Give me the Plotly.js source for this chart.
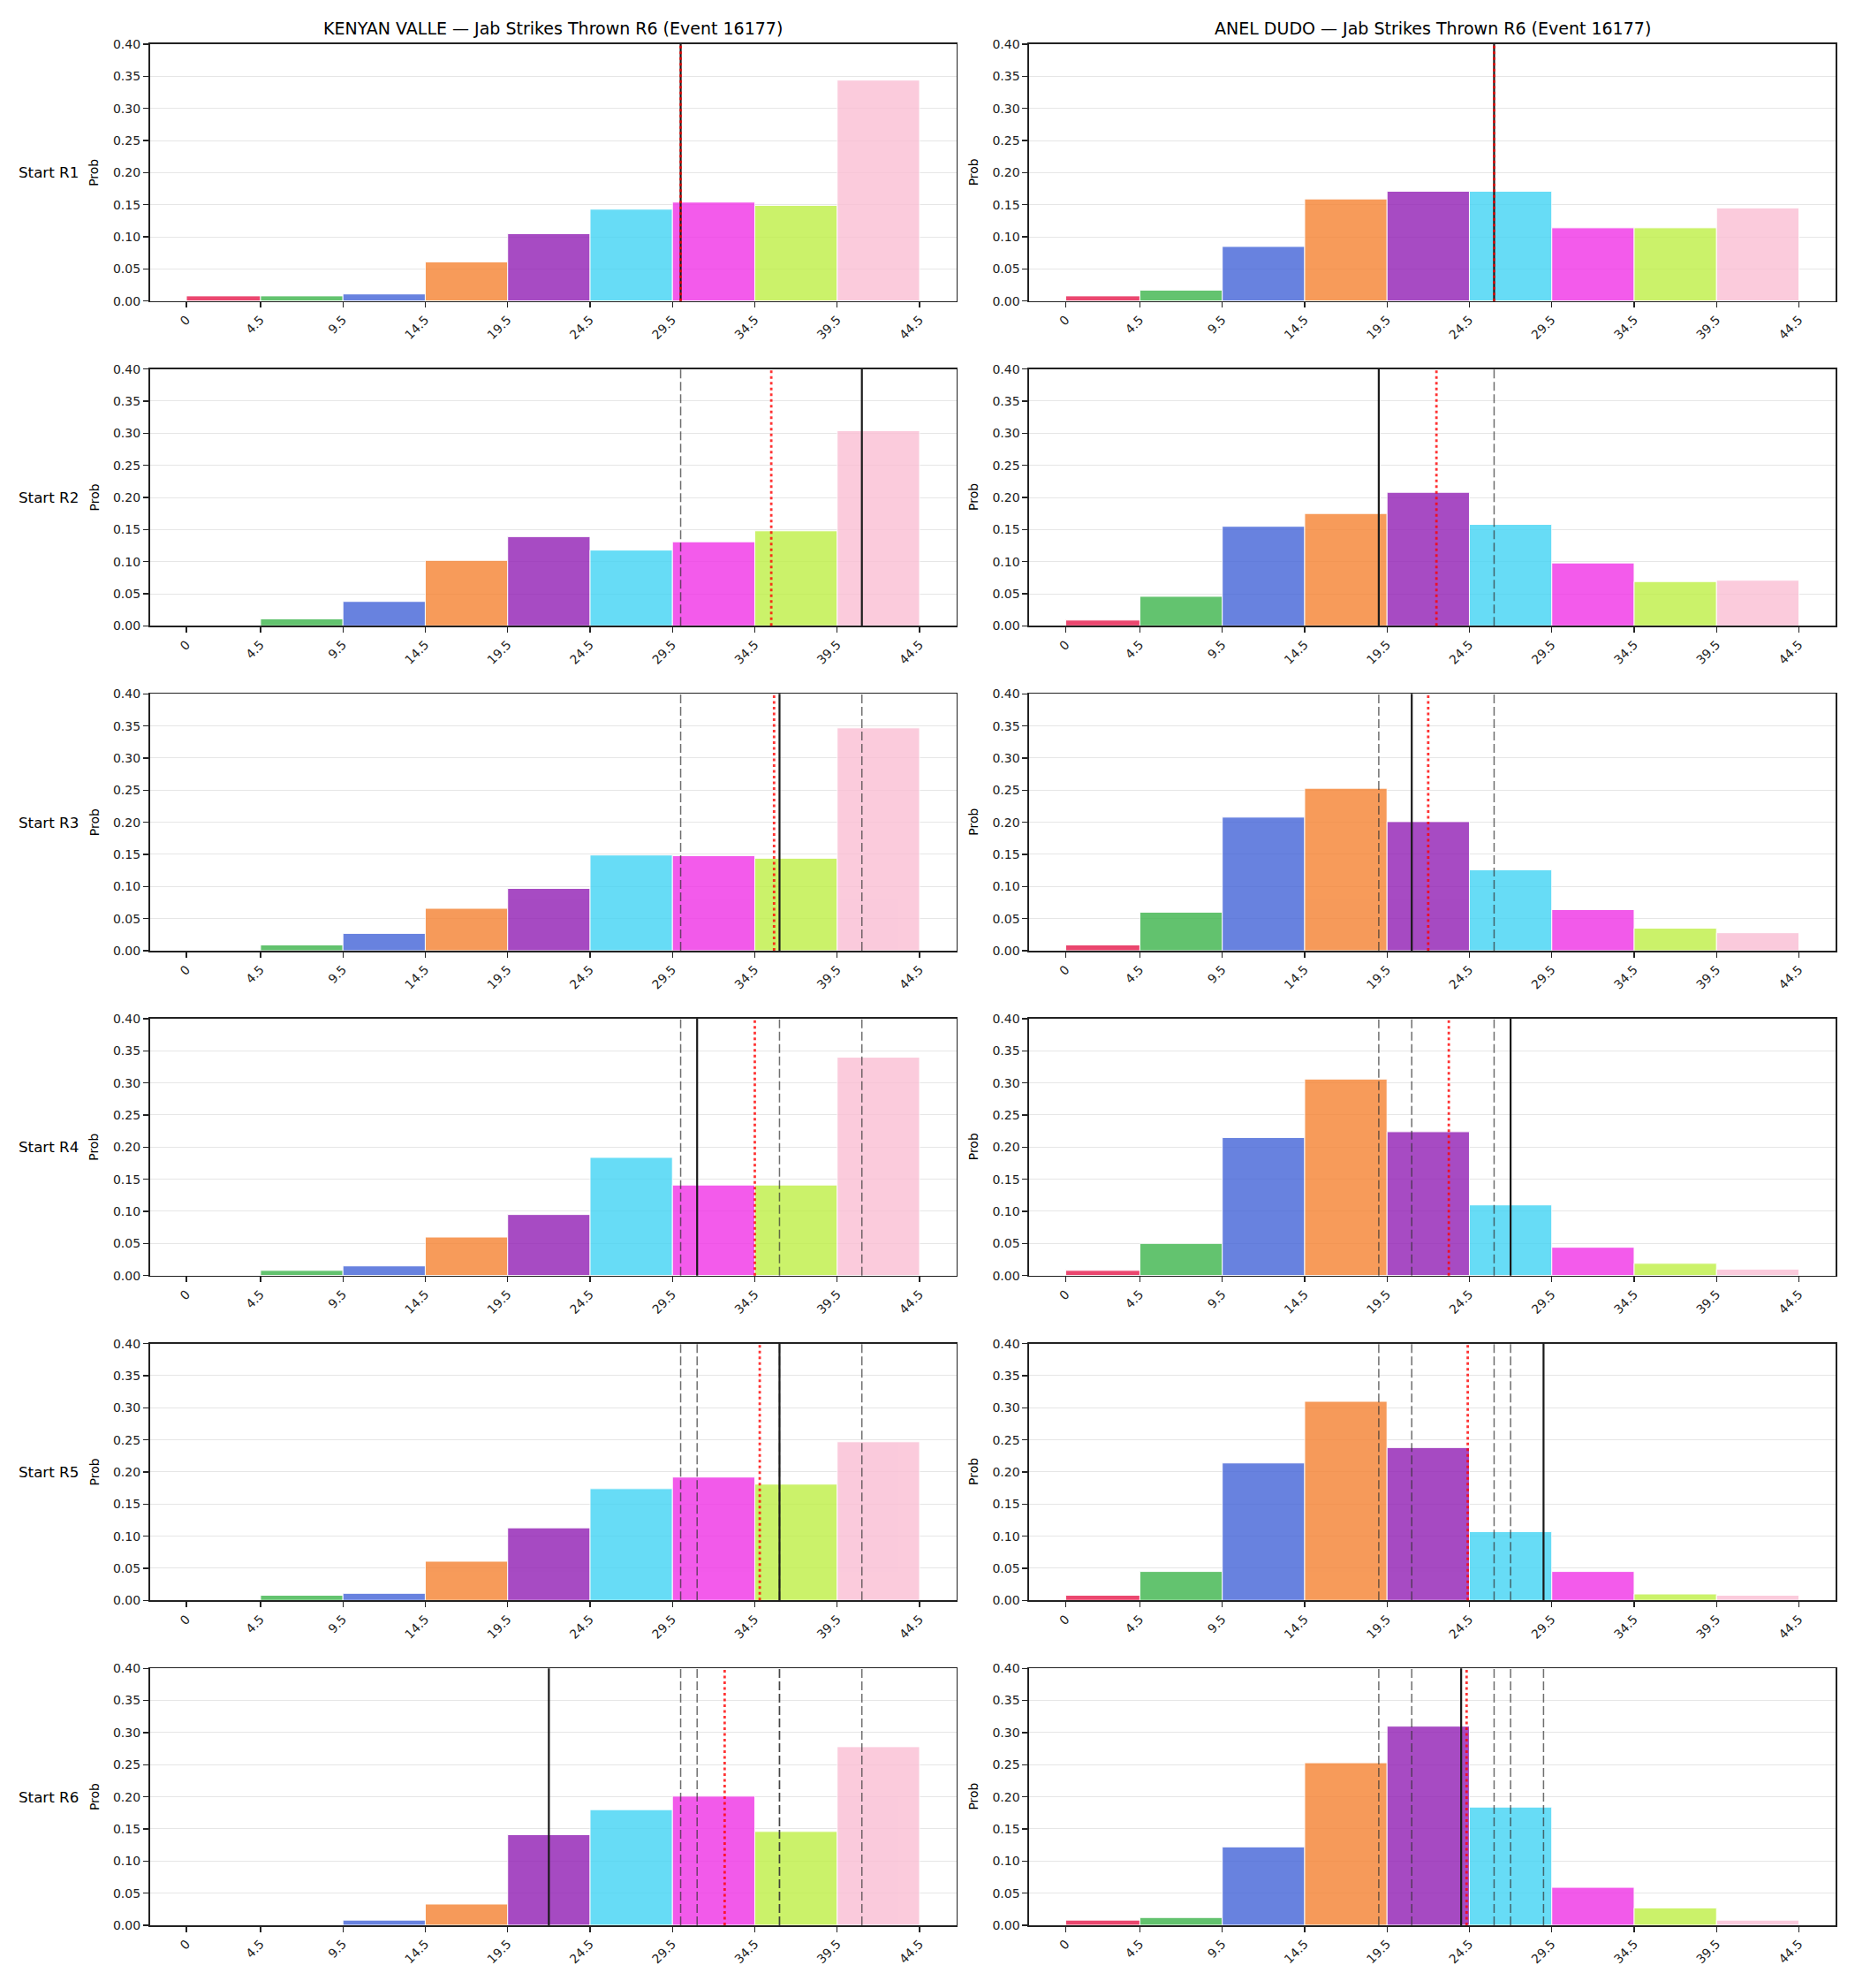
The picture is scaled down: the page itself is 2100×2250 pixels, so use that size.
<!DOCTYPE html>
<html>
<head>
<meta charset="utf-8">
<script src="https://cdn.plot.ly/plotly-3.0.1.min.js"></script>
<style>html,body{margin:0;padding:0;background:#fff;}#chart{width:2100px;height:2250px;}</style>
</head>
<body>
<div id="chart"></div>
<script>
// ---------------- DATA ----------------
const binEdges = [0, 4.5, 9.5, 14.5, 19.5, 24.5, 29.5, 34.5, 39.5, 44.5];
const tickLabels = ["0", "4.5", "9.5", "14.5", "19.5", "24.5", "29.5", "34.5", "39.5", "44.5"];
const rowLabels = ["Start R1", "Start R2", "Start R3", "Start R4", "Start R5", "Start R6"];
const columnTitles = [
  "KENYAN VALLE \u2014 Jab Strikes Thrown R6 (Event 16177)",
  "ANEL DUDO \u2014 Jab Strikes Thrown R6 (Event 16177)"
];
const binColors = ["#e6194b", "#3cb44b", "#4363d8", "#f58231", "#911eb4", "#42d4f4", "#f032e6", "#bfef45", "#fabed4"];

// Kenyan Valle: probability per bin at the start of each round
const valleR1 = [0.008, 0.008, 0.011, 0.061, 0.105, 0.143, 0.154, 0.149, 0.344];
const valleR2 = [0.000, 0.011, 0.038, 0.102, 0.139, 0.118, 0.131, 0.148, 0.304];
const valleR3 = [0.000, 0.009, 0.027, 0.066, 0.097, 0.149, 0.148, 0.144, 0.347];
const valleR4 = [0.000, 0.008, 0.015, 0.060, 0.095, 0.184, 0.141, 0.141, 0.340];
const valleR5 = [0.000, 0.008, 0.011, 0.061, 0.113, 0.174, 0.192, 0.181, 0.247];
const valleR6 = [0.000, 0.000, 0.008, 0.033, 0.141, 0.180, 0.201, 0.146, 0.278];

// Anel Dudo: probability per bin at the start of each round
const dudoR1 = [0.008, 0.017, 0.085, 0.159, 0.171, 0.171, 0.114, 0.114, 0.145];
const dudoR2 = [0.009, 0.046, 0.155, 0.175, 0.208, 0.158, 0.098, 0.069, 0.071];
const dudoR3 = [0.009, 0.060, 0.208, 0.253, 0.201, 0.126, 0.064, 0.035, 0.028];
const dudoR4 = [0.008, 0.050, 0.215, 0.306, 0.224, 0.110, 0.044, 0.019, 0.010];
const dudoR5 = [0.008, 0.045, 0.214, 0.310, 0.238, 0.107, 0.045, 0.010, 0.008];
const dudoR6 = [0.008, 0.012, 0.122, 0.253, 0.310, 0.184, 0.059, 0.027, 0.008];

// Marker lines: black solid = round value, red dotted = running mean, grey dashed = earlier rounds
const valleRoundValue = [30, 41, 36, 31, 36, 22];
const valleRunningMean = [30.0, 35.5, 35.67, 34.5, 34.8, 32.67];
const dudoRoundValue = [26, 19, 21, 27, 29, 24];
const dudoRunningMean = [26.0, 22.5, 22.0, 23.25, 24.4, 24.33];

const valleRows = [valleR1, valleR2, valleR3, valleR4, valleR5, valleR6];
const dudoRows = [dudoR1, dudoR2, dudoR3, dudoR4, dudoR5, dudoR6];

// ---------------- LAYOUT ----------------
const W = 2100, H = 2250;
const FONT = "DejaVu Sans, Liberation Sans, sans-serif";
const colX = [[169.5, 1082.5], [1165, 2078]];
const rowTop0 = 50, rowStep = 367.65, rowH = 290.7;

const centers = binEdges.slice(0, -1).map((e, i) => (e + binEdges[i + 1]) / 2);
const widths = binEdges.slice(0, -1).map((e, i) => binEdges[i + 1] - e);

const data = [];
const layout = {
  width: W, height: H,
  margin: {l: 0, r: 0, t: 0, b: 0},
  paper_bgcolor: "#fff", plot_bgcolor: "#fff",
  showlegend: false,
  font: {family: FONT, size: 14, color: "#000"},
  shapes: [], annotations: []
};

const columns = [
  {rows: valleRows, value: valleRoundValue, mean: valleRunningMean},
  {rows: dudoRows, value: dudoRoundValue, mean: dudoRunningMean}
];

for (let r = 0; r < 6; r++) {
  const top = rowTop0 + r * rowStep;
  const bottom = top + rowH;
  const yDom = [1 - bottom / H, 1 - top / H];
  for (let c = 0; c < 2; c++) {
    const idx = r * 2 + c + 1;
    const xName = idx === 1 ? "x" : "x" + idx;
    const yName = idx === 1 ? "y" : "y" + idx;
    const xKey = idx === 1 ? "xaxis" : "xaxis" + idx;
    const yKey = idx === 1 ? "yaxis" : "yaxis" + idx;
    const col = columns[c];

    data.push({
      type: "bar", x: centers, y: col.rows[r], width: widths,
      xaxis: xName, yaxis: yName,
      marker: {color: binColors, opacity: 0.8, line: {color: "#ffffff", width: 1}},
      hoverinfo: "skip"
    });

    layout[xKey] = {
      domain: [colX[c][0] / W, colX[c][1] / W], anchor: yName,
      range: [-2.225, 46.725], tickmode: "array", tickvals: binEdges, ticktext: tickLabels,
      tickangle: -45, ticks: "outside", ticklen: 6, tickwidth: 1.3, tickcolor: "#222",
      showline: true, mirror: true, linecolor: "#222", linewidth: 1.6,
      showgrid: false, zeroline: false, automargin: false,
      tickfont: {family: FONT, size: 14, color: "#222"}
    };
    layout[yKey] = {
      domain: yDom, anchor: xName,
      range: [0, 0.4], tickmode: "linear", tick0: 0, dtick: 0.05, tickformat: ".2f",
      ticks: "outside", ticklen: 6, tickwidth: 1.3, tickcolor: "#222",
      showline: true, mirror: true, linecolor: "#222", linewidth: 1.6,
      showgrid: true, gridcolor: "#e6e6e6", gridwidth: 1,
      zeroline: false, automargin: false,
      tickfont: {family: FONT, size: 14, color: "#222"}
    };

    // earlier rounds (grey dashed)
    for (let p = 0; p < r; p++) {
      layout.shapes.push({
        type: "line", xref: xName, yref: yName + " domain",
        x0: col.value[p], x1: col.value[p], y0: 0, y1: 1,
        line: {color: "rgba(50,50,50,0.7)", width: 1.5, dash: "10px,4px"}
      });
    }
    // current round value (black solid)
    layout.shapes.push({
      type: "line", xref: xName, yref: yName + " domain",
      x0: col.value[r], x1: col.value[r], y0: 0, y1: 1,
      line: {color: "#1a1a1a", width: 2.2}
    });
    // running mean (red dotted)
    layout.shapes.push({
      type: "line", xref: xName, yref: yName + " domain",
      x0: col.mean[r], x1: col.mean[r], y0: 0, y1: 1,
      line: {color: "rgba(255,0,0,0.8)", width: 2.8, dash: "3px,3.5px"}
    });

    // "Prob" label
    layout.annotations.push({
      text: "Prob", xref: "paper", yref: "paper",
      x: (c === 0 ? 106.5 : 1102) / W, y: 1 - (top + rowH / 2) / H,
      xanchor: "center", yanchor: "middle", textangle: -90, showarrow: false,
      font: {family: FONT, size: 14, color: "#000"}
    });
  }
  // row label
  layout.annotations.push({
    text: rowLabels[r], xref: "paper", yref: "paper",
    x: 91 / W, y: 1 - (top + rowH / 2) / H,
    xanchor: "right", yanchor: "middle", showarrow: false,
    font: {family: FONT, size: 16.7, color: "#000"}
  });
}

// column titles
for (let c = 0; c < 2; c++) {
  layout.annotations.push({
    text: columnTitles[c], xref: "paper", yref: "paper",
    x: (colX[c][0] + colX[c][1]) / 2 / W, y: 1 - 31.5 / H,
    xanchor: "center", yanchor: "middle", showarrow: false,
    font: {family: FONT, size: 19, color: "#000"}
  });
}

Plotly.newPlot("chart", data, layout, {displayModeBar: false, staticPlot: true});
</script>
</body>
</html>
